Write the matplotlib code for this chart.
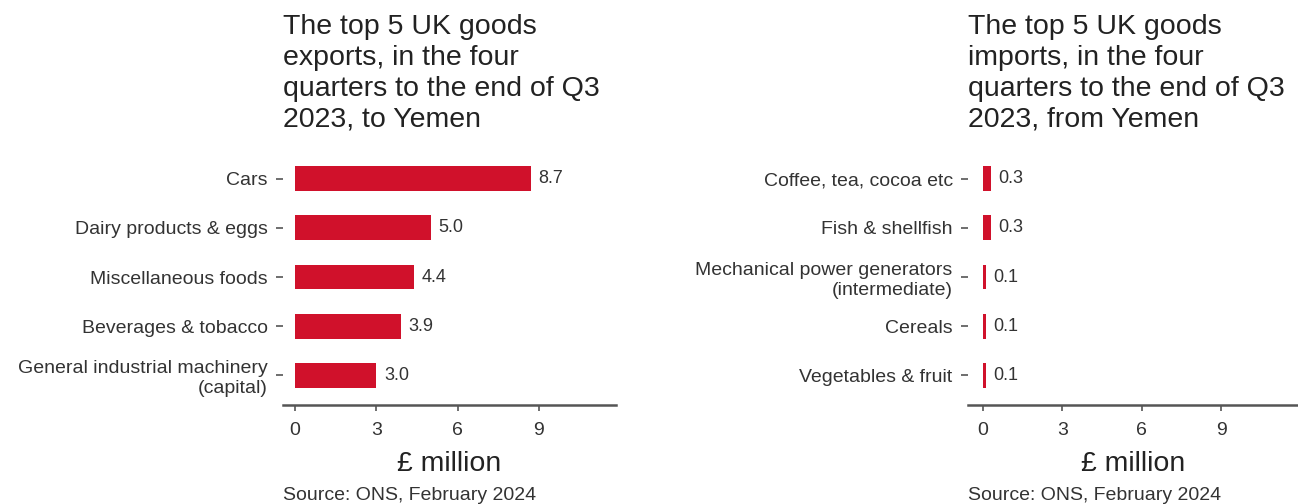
import matplotlib
matplotlib.use("Agg")
import matplotlib.pyplot as plt

plt.rcParams['font.family'] = ['Liberation Sans', 'DejaVu Sans']

# exports to Yemen, £ million
exp_names = ['Cars', 'Dairy products & eggs', 'Miscellaneous foods',
             'Beverages & tobacco', 'General industrial machinery\n(capital)']
exp_vals = [8.7, 5.0, 4.4, 3.9, 3.0]

# imports from Yemen, £ million
imp_names = ['Coffee, tea, cocoa etc', 'Fish & shellfish',
             'Mechanical power generators\n(intermediate)', 'Cereals',
             'Vegetables & fruit']
imp_vals = [0.3, 0.3, 0.1, 0.1, 0.1]

xticks = [0, 3, 6, 9]

titles = ['The top 5 UK goods\nexports, in the four\nquarters to the end of Q3\n2023, to Yemen',
          'The top 5 UK goods\nimports, in the four\nquarters to the end of Q3\n2023, from Yemen']
source = 'Source: ONS, February 2024'

bar_col = '#d0112b'
txt_col = '#333333'
W, H = 1298, 504

fig = plt.figure(figsize=(W/100, H/100), dpi=100)

def panel(x0, x1, xmin, xmax, names, vals, title):
    ax = fig.add_axes([x0/W, (H-405)/H, (x1-x0)/W, 256/H])
    y = list(range(len(names)))
    ax.barh(y, vals, height=0.5, color=bar_col)
    for yi, v in zip(y, vals):
        ax.text(v + 0.28, yi, '%.1f' % v, va='center', ha='left',
                fontsize=13, color=txt_col)
    ax.set_ylim(4.6, -0.6)
    ax.set_xlim(xmin, xmax)
    ax.set_yticks(y)
    ax.set_yticklabels(names, fontsize=14, color=txt_col, linespacing=1.2)
    ax.set_xticks(xticks)
    ax.set_xticklabels([str(t) for t in xticks], fontsize=14, color=txt_col)
    for s in ['top', 'right', 'left']:
        ax.spines[s].set_visible(False)
    ax.spines['bottom'].set_linewidth(1.8)
    ax.spines['bottom'].set_color('#555555')
    ax.tick_params(axis='y', length=5, width=1.2, color='#555555', pad=6)
    ax.tick_params(axis='x', length=4, width=1.2, color='#555555', pad=8)
    ax.set_xlabel('£ million', fontsize=20.5, color='#222222', labelpad=9)
    fig.text(x0/W, 1 - 14/H, title, ha='left', va='top', fontsize=20.5,
             color='#222222', linespacing=1.25)
    fig.text(x0/W, 1 - 496/H, source, ha='left', va='center', fontsize=14,
             color=txt_col)
    return ax

panel(283, 616, -0.44, 11.84, exp_names, exp_vals, titles[0])
panel(968, 1298, -0.57, 11.9, imp_names, imp_vals, titles[1])

fig.savefig('out.png', dpi=100)
